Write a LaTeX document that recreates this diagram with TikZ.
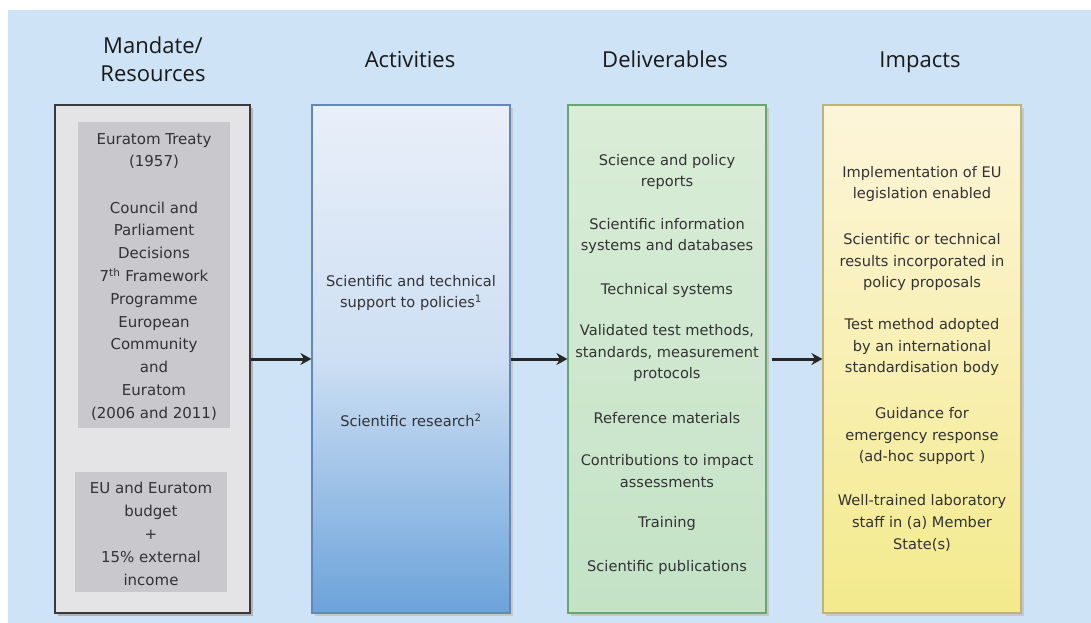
\documentclass[tikz,border=0pt]{standalone}
\usepackage{fontspec}
\setmainfont{DejaVu Sans}
\newfontfamily\headfont{Open Sans}
\usetikzlibrary{arrows.meta}
\definecolor{bgblue}{RGB}{206,227,246}
\definecolor{txtgray}{RGB}{50,50,52}
\definecolor{grayfill}{RGB}{228,228,230}
\definecolor{grayinner}{RGB}{201,201,205}
\definecolor{grayborder}{RGB}{55,58,62}
\definecolor{bluetop}{RGB}{233,239,249}
\definecolor{bluemid}{RGB}{205,223,243}
\definecolor{bluebot}{RGB}{108,163,218}
\definecolor{blueborder}{RGB}{100,135,185}
\definecolor{greentop}{RGB}{218,237,215}
\definecolor{greenbot}{RGB}{195,226,198}
\definecolor{greenborder}{RGB}{105,165,112}
\definecolor{yellowtop}{RGB}{253,245,218}
\definecolor{yellowbot}{RGB}{243,234,140}
\definecolor{yellowborder}{RGB}{190,180,120}
\tikzset{
  colbox/.style={rectangle, minimum width=198pt, minimum height=508pt, inner sep=0pt, line width=1.2pt},
  head/.style={font=\headfont\fontsize{22}{28}\selectfont, text=black!90, align=center, anchor=base},
  item/.style={font=\fontsize{14.6}{21.8}\selectfont, text=txtgray, align=center, inner sep=0pt},
  mitem/.style={font=\fontsize{15}{22.8}\selectfont, text=txtgray, align=center, inner sep=0pt},
  arr/.style={line width=3pt, -{Stealth[length=11pt,width=12pt]}, black!85}
}
\begin{document}
\begin{tikzpicture}[x=1pt,y=-1pt]
\useasboundingbox (0,0) rectangle (1091,623);
\fill[white] (0,0) rectangle (1091,623);
\fill[bgblue] (8,10) rectangle (1091,623);

% headers
\node[head] (h1) at (153,82) {Mandate/\\Resources};
\node[head] (h2) at (410,68) {Activities};
\node[head] (h3) at (665,68) {Deliverables};
\node[head] (h4) at (920,68) {Impacts};

% shadows
\fill[black!30] (58,108) rectangle (253,616);
\fill[black!22] (315,108) rectangle (513,616);
\fill[black!22] (571,108) rectangle (769,616);
\fill[black!22] (826,108) rectangle (1024,616);

% boxes
\node[colbox, minimum width=195pt, fill=grayfill, draw=grayborder, line width=2pt] (mand) at (152.5,359) {};
\node[colbox, draw=blueborder, top color=bluetop, bottom color=bluebot, middle color=bluemid] (act) at (411,359) {};
\node[colbox, draw=greenborder, top color=greentop, bottom color=greenbot] (del) at (667,359) {};
\node[colbox, draw=yellowborder, top color=yellowtop, bottom color=yellowbot] (imp) at (922,359) {};

% inner gray rects
\node[rectangle, fill=grayinner, minimum width=152pt, minimum height=306pt, inner sep=0pt] (in1) at (154,275) {};
\node[rectangle, fill=grayinner, minimum width=152pt, minimum height=120pt, inner sep=0pt] (in2) at (151,532) {};

% mandate texts
\node[mitem, font=\fontsize{15}{22.5}\selectfont] (m1) at (154,151) {Euratom Treaty\\(1957)};
\node[mitem] (m2) at (154,311) {Council and\\Parliament\\Decisions\\7\textsuperscript{th} Framework\\Programme\\European\\Community\\and\\Euratom\\(2006 and 2011)};
\node[mitem, font=\fontsize{15}{23}\selectfont] (m3) at (151,534) {EU and Euratom\\budget\\+\\15\% external\\income};

% activities
\node[item] (a1) at (411,293) {Scientific and technical\\support to policies\textsuperscript{1}};
\node[item] (a2) at (411,420) {Scientific research\textsuperscript{2}};

% deliverables
\node[item] (d1) at (667,172) {Science and policy\\reports};
\node[item] (d2) at (667,236) {Scientific information\\systems and databases};
\node[item] (d3) at (667,290) {Technical systems};
\node[item] (d4) at (667,353) {Validated test methods,\\standards, measurement\\protocols};
\node[item] (d5) at (667,418) {Reference materials};
\node[item] (d6) at (667,471) {Contributions to impact\\assessments};
\node[item] (d7) at (667,523) {Training};
\node[item] (d8) at (667,567) {Scientific publications};

% impacts
\node[item] (i1) at (922,184) {Implementation of EU\\legislation enabled};
\node[item] (i2) at (922,262) {Scientific or technical\\results incorporated in\\policy proposals};
\node[item] (i3) at (922,347) {Test method adopted\\by an international\\standardisation body};
\node[item] (i4) at (922,436) {Guidance for\\emergency response\\(ad-hoc support )};
\node[item] (i5) at (922,523) {Well-trained laboratory\\staff in (a) Member\\State(s)};

% arrows
\draw[arr] (mand.east) -- (act.west);
\draw[arr] (act.east) -- (del.west);
\draw[arr] ([xshift=5pt]del.east) -- (imp.west);
\end{tikzpicture}
\end{document}
